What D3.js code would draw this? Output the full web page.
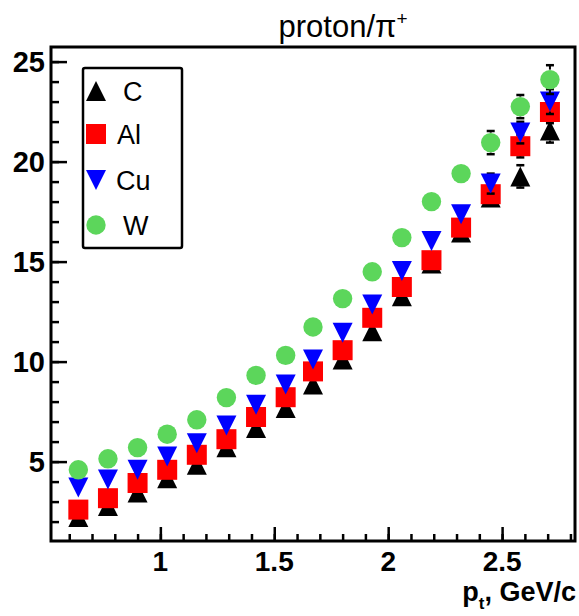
<!DOCTYPE html>
<html>
<head>
<meta charset="utf-8">
<script src="https://cdn.jsdelivr.net/npm/d3@7"></script>
<style>
	body { margin: 0; background: #fff; }
	text { font-family: "Liberation Sans", Arial, sans-serif; }
</style>
</head>
<body>
<script>
var width = 579
var height = 616

// pt bin centres, GeV/c
var pt = [0.64, 0.77, 0.90, 1.03, 1.16, 1.29, 1.42, 1.55, 1.67, 1.80, 1.93, 2.06, 2.19, 2.32, 2.45, 2.58, 2.71]

var ratioC  = [2.23, 2.78, 3.45, 4.17, 4.84, 5.72, 6.68, 7.68, 8.85, 10.1, 11.52, 13.27, 14.9, 16.45, 18.2, 19.26, 21.55]
var ratioAl = [2.6, 3.17, 3.93, 4.59, 5.34, 6.12, 7.23, 8.22, 9.51, 10.57, 12.19, 13.73, 15.07, 16.7, 18.37, 20.77, 22.48]
var ratioCu = [3.71, 4.1, 4.59, 5.25, 5.92, 6.8, 7.84, 8.85, 10.1, 11.44, 12.86, 14.53, 16.03, 17.37, 18.9, 21.45, 23.0]
var ratioW  = [4.59, 5.14, 5.7, 6.37, 7.09, 8.2, 9.31, 10.31, 11.73, 13.15, 14.49, 16.2, 18.0, 19.4, 20.95, 22.75, 24.1]

var errC  = [0.1, 0.1, 0.12, 0.12, 0.14, 0.15, 0.18, 0.2, 0.22, 0.25, 0.28, 0.32, 0.38, 0.45, 0.5, 0.56, 0.6]
var errAl = [0.08, 0.1, 0.1, 0.12, 0.13, 0.15, 0.17, 0.2, 0.22, 0.25, 0.28, 0.3, 0.36, 0.42, 0.48, 0.56, 0.56]
var errCu = [0.1, 0.1, 0.12, 0.13, 0.15, 0.17, 0.2, 0.22, 0.25, 0.28, 0.3, 0.35, 0.4, 0.45, 0.5, 0.54, 0.62]
var errW  = [0.12, 0.12, 0.14, 0.15, 0.17, 0.2, 0.22, 0.25, 0.28, 0.32, 0.36, 0.4, 0.45, 0.5, 0.58, 0.58, 0.72]

var names = ['C', 'Al', 'Cu', 'W']
var colors = ['#000000', '#ff0000', '#0000ff', '#5cd65b']
var shapes = ['triUp', 'square', 'triDown', 'circle']
var ratios = [ratioC, ratioAl, ratioCu, ratioW]
var errors = [errC, errAl, errCu, errW]

var xTicks = [1, 1.5, 2, 2.5]
var yTicks = [5, 10, 15, 20, 25]

var frameL = 51, frameR = 575, frameT = 47, frameB = 541

var x = d3.scaleLinear().domain([0.52, 2.82]).range([frameL, frameR])
var y = d3.scaleLinear().domain([1.03, 25.73]).range([frameB, frameT])

var svg = d3.select('body')
			.append('svg')
			.attr('width', width)
			.attr('height', height)

svg.append('rect')
	.attr('width', '100%')
	.attr('height', '100%')
	.attr('fill', 'white')

var half = 10

function marker(g, shape, color, cx, cy, s) {
	if (shape == 'circle') {
		g.append('circle').attr('cx', cx).attr('cy', cy).attr('r', s * 0.97).attr('fill', color)
	} else if (shape == 'square') {
		g.append('rect').attr('x', cx - s).attr('y', cy - s).attr('width', 2 * s).attr('height', 2 * s).attr('fill', color)
	} else if (shape == 'triUp') {
		g.append('path').attr('d', 'M' + cx + ',' + (cy - s) + 'L' + (cx + s) + ',' + (cy + s) + 'L' + (cx - s) + ',' + (cy + s) + 'Z').attr('fill', color)
	} else {
		g.append('path').attr('d', 'M' + cx + ',' + (cy + s) + 'L' + (cx + s) + ',' + (cy - s) + 'L' + (cx - s) + ',' + (cy - s) + 'Z').attr('fill', color)
	}
}

// axes (ticks inward, ROOT style)
var xAxis = d3.axisTop(x).tickValues(d3.range(0.6, 2.81, 0.1)).tickSize(7).tickFormat('')
var xMajor = d3.axisTop(x).tickValues(xTicks).tickSize(14).tickFormat('')
var yAxis = d3.axisRight(y).tickValues(d3.range(2, 25.5, 1)).tickSize(8).tickFormat('')
var yMajor = d3.axisRight(y).tickValues(yTicks).tickSize(16).tickFormat('')

function styleAxis(g) {
	g.select('.domain').remove()
	g.selectAll('line').attr('stroke', '#000').attr('stroke-width', 2.5)
}

svg.append('g').attr('transform', 'translate(0,' + frameB + ')').call(xAxis).call(styleAxis)
svg.append('g').attr('transform', 'translate(0,' + frameB + ')').call(xMajor).call(styleAxis)
svg.append('g').attr('transform', 'translate(' + frameL + ',0)').call(yAxis).call(styleAxis)
svg.append('g').attr('transform', 'translate(' + frameL + ',0)').call(yMajor).call(styleAxis)

svg.selectAll('.xlab')
	.data(xTicks)
	.enter()
	.append('text')
	.attr('x', function(d){ return x(d) })
	.attr('y', 571)
	.attr('text-anchor', 'middle')
	.attr('font-size', 28)
	.attr('font-weight', 'bold')
	.text(function(d){ return d })

svg.selectAll('.ylab')
	.data(yTicks)
	.enter()
	.append('text')
	.attr('x', 45)
	.attr('y', function(d){ return y(d) + 10.5 })
	.attr('text-anchor', 'end')
	.attr('font-size', 29)
	.attr('font-weight', 'bold')
	.text(function(d){ return d })

// data: error bars then markers, per graph
ratios.forEach(function(vals, k) {
	var g = svg.append('g')
	vals.forEach(function(v, i) {
		var cx = x(pt[i]), cy = y(v)
		var e = errors[k][i]
		var up = y(v + e), dn = y(v - e)
		if (cy - up > half) {
			g.append('line').attr('x1', cx).attr('x2', cx).attr('y1', cy - half).attr('y2', up)
				.attr('stroke', '#000').attr('stroke-width', 2)
			g.append('line').attr('x1', cx - 4).attr('x2', cx + 4).attr('y1', up).attr('y2', up)
				.attr('stroke', '#000').attr('stroke-width', 2.5)
			g.append('line').attr('x1', cx).attr('x2', cx).attr('y1', cy + half).attr('y2', dn)
				.attr('stroke', '#000').attr('stroke-width', 2)
			g.append('line').attr('x1', cx - 4).attr('x2', cx + 4).attr('y1', dn).attr('y2', dn)
				.attr('stroke', '#000').attr('stroke-width', 2.5)
		}
	})
	vals.forEach(function(v, i) {
		marker(g, shapes[k], colors[k], x(pt[i]), y(v), half)
	})
})

// frame
svg.append('rect')
	.attr('x', frameL)
	.attr('y', frameT)
	.attr('width', frameR - frameL)
	.attr('height', frameB - frameT)
	.attr('fill', 'none')
	.attr('stroke', '#000')
	.attr('stroke-width', 3)

// legend
var legend = svg.append('g')
legend.append('rect')
	.attr('x', 83)
	.attr('y', 68)
	.attr('width', 99)
	.attr('height', 180)
	.attr('rx', 2)
	.attr('fill', 'white')
	.attr('stroke', '#000')
	.attr('stroke-width', 2.5)

var legendY = [91, 134, 180, 225]
var legendTextX = [123, 117, 116, 123]
names.forEach(function(n, k) {
	marker(legend, shapes[k], colors[k], 96, legendY[k], 10)
	legend.append('text')
		.attr('x', legendTextX[k])
		.attr('y', legendY[k] + 10)
		.attr('font-size', 27)
		.text(n)
})

// title
var title = svg.append('text')
	.attr('x', 343)
	.attr('y', 37)
	.attr('text-anchor', 'middle')
	.attr('font-size', 31)
title.append('tspan').text('proton/\u03c0')
title.append('tspan').attr('dy', -12).attr('font-size', 19).text('+')

// x axis title
var xt = svg.append('text')
	.attr('x', 576)
	.attr('y', 601)
	.attr('text-anchor', 'end')
	.attr('font-size', 27)
	.attr('font-weight', 'bold')
xt.append('tspan').text('p')
xt.append('tspan').attr('dy', 8).attr('font-size', 17).text('t')
xt.append('tspan').attr('dy', -8).text(', GeV/c')
</script>
</body>
</html>
